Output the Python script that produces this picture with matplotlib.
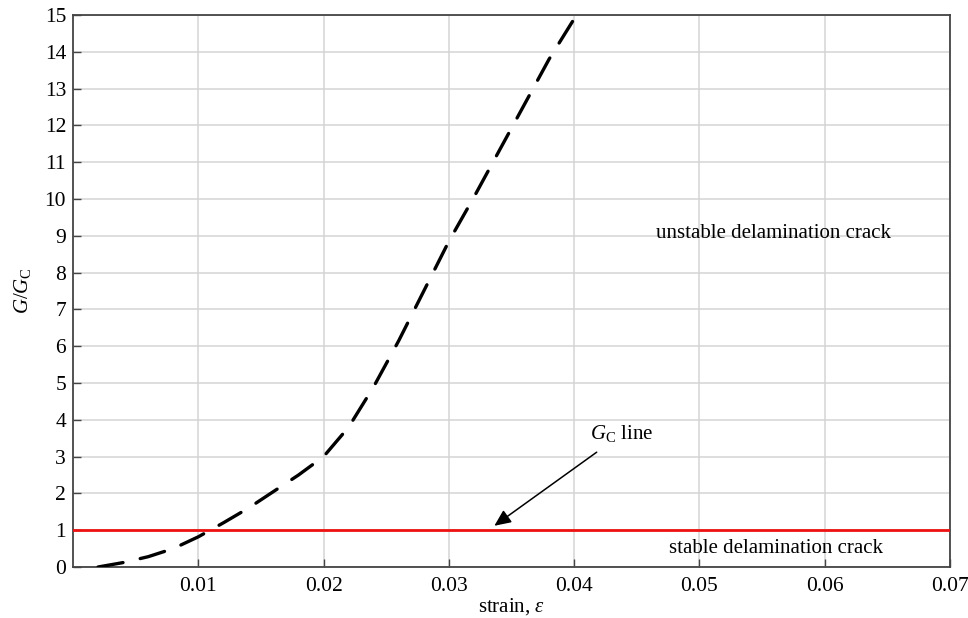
import matplotlib
matplotlib.use("Agg")
import matplotlib.pyplot as plt

# Data
strain = [0.002, 0.004, 0.006, 0.008, 0.010, 0.012, 0.014, 0.016, 0.018, 0.020,
          0.022, 0.024, 0.026, 0.028, 0.030, 0.032, 0.034, 0.036, 0.038, 0.0401]
g_ratio = [0.0, 0.12, 0.28, 0.50, 0.82, 1.20, 1.60, 2.05, 2.50, 3.00,
           3.80, 4.90, 6.15, 7.50, 8.85, 10.05, 11.30, 12.55, 13.80, 14.95]
gc_x = [0.0, 0.07]
gc_y = [1.0, 1.0]
xticks = [0.01, 0.02, 0.03, 0.04, 0.05, 0.06, 0.07]
xticklabels = ["0.01", "0.02", "0.03", "0.04", "0.05", "0.06", "0.07"]
yticks = list(range(0, 16))

plt.rcParams['font.family'] = ['Liberation Serif', 'DejaVu Serif']
plt.rcParams['mathtext.fontset'] = 'custom'
plt.rcParams['mathtext.rm'] = 'Liberation Serif'
plt.rcParams['mathtext.it'] = 'Liberation Serif:italic'

fig = plt.figure(figsize=(9.68, 6.18), dpi=100)
ax = fig.add_axes([73/968, 1 - 567/618, (950-73)/968, (567-15)/618])

ax.set_xlim(0, 0.07)
ax.set_ylim(0, 15)
ax.set_xticks(xticks)
ax.set_xticklabels(xticklabels)
ax.set_yticks(yticks)

ax.grid(True, color='#d4d4d4', linewidth=1.1, zorder=0)
ax.set_axisbelow(True)

ax.plot(gc_x, gc_y, color='#ee1111', linewidth=2.0, zorder=3)
ax.plot(strain, g_ratio, color='black', linewidth=2.4, dashes=(7.6, 5.3),
        dash_capstyle='round', zorder=4)

ax.annotate('', xy=(0.03363, 1.12), xytext=(0.0418, 3.12),
            arrowprops=dict(arrowstyle='-|>,head_length=1.0,head_width=0.45',
                            color='black', lw=1.1, shrinkA=0, shrinkB=0), zorder=5)
ax.text(0.0438, 3.62, r'$G_{\mathrm{C}}$ line', ha='center', va='center', fontsize=15)
ax.text(0.0559, 9.05, 'unstable delamination crack', ha='center', va='center', fontsize=15)
ax.text(0.0561, 0.5, 'stable delamination crack', ha='center', va='center', fontsize=15)

ax.set_xlabel(r'strain, $\varepsilon$', fontsize=15, labelpad=0)
ax.set_ylabel(r'$G/G_{\mathrm{C}}$', fontsize=15, labelpad=8)

ax.tick_params(direction='in', length=6, width=1.0, labelsize=15.5, color='#444444')
ax.tick_params(axis='x', pad=7)
ax.tick_params(axis='y', pad=5)
for s in ax.spines.values():
    s.set_color('#444444')
    s.set_linewidth(1.3)

fig.savefig('out.png', dpi=100)
